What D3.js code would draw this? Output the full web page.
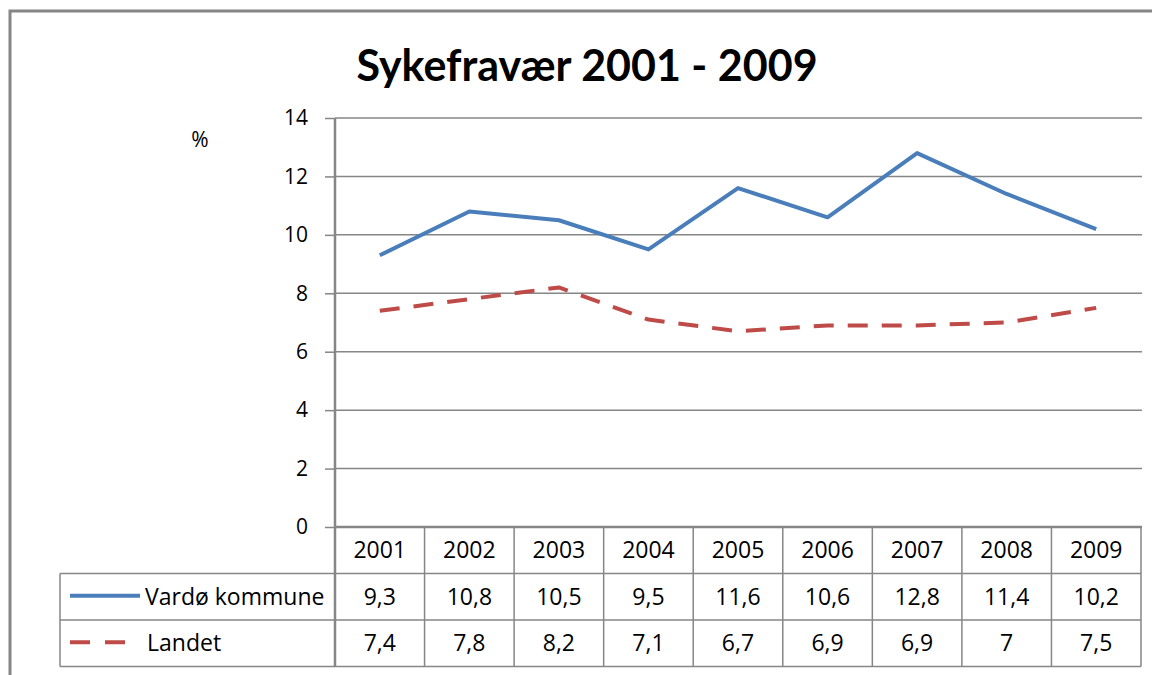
<!DOCTYPE html>
<html>
<head>
<meta charset="utf-8">
<script src="https://cdn.jsdelivr.net/npm/d3@7"></script>
<style>
  body { margin: 0; background: #fff; }
  text { font-family: "Open Sans", Lato, sans-serif; fill: #000; }
</style>
</head>
<body>
<div id="chart"></div>
<script>
const years = ["2001", "2002", "2003", "2004", "2005", "2006", "2007", "2008", "2009"];
const vardo = [9.3, 10.8, 10.5, 9.5, 11.6, 10.6, 12.8, 11.4, 10.2];
const landet = [7.4, 7.8, 8.2, 7.1, 6.7, 6.9, 6.9, 7, 7.5];
const yTicks = [0, 2, 4, 6, 8, 10, 12, 14];
const seriesNames = ["Vardø kommune", "Landet"];

const W = 1152, H = 675;
const plotLeft = 335, plotRight = 1141, plotTop = 118, plotBottom = 527;
const rowH = 46.5;
const legendLeft = 60;
const grey = "#868686";

const svg = d3.select("#chart").append("svg")
  .attr("width", W)
  .attr("height", H);

// outer chart frame
svg.append("rect")
  .attr("x", 10).attr("y", 11)
  .attr("width", W + 20).attr("height", H + 20)
  .attr("fill", "none")
  .attr("stroke", grey)
  .attr("stroke-width", 3);

svg.append("text")
  .attr("x", 587).attr("y", 81)
  .attr("text-anchor", "middle")
  .style("font-family", "Lato, sans-serif")
  .style("font-size", "43px")
  .style("font-weight", "bold")
  .text("Sykefravær 2001 - 2009");

svg.append("text")
  .attr("x", 200).attr("y", 147)
  .attr("text-anchor", "middle")
  .style("font-size", "21px")
  .text("%");

const x = d3.scaleBand().domain(years).range([plotLeft, plotRight]);
const y = d3.scaleLinear().domain([0, 14]).range([plotBottom, plotTop]);

// gridlines
svg.append("g")
  .selectAll("line")
  .data(yTicks)
  .enter().append("line")
  .attr("x1", plotLeft).attr("x2", plotRight + 1)
  .attr("y1", d => y(d)).attr("y2", d => y(d))
  .attr("stroke", grey)
  .attr("stroke-width", d => d === 0 ? 2.5 : 1.5);

// y axis
const yAxis = svg.append("g")
  .attr("transform", "translate(" + plotLeft + ",0)")
  .call(d3.axisLeft(y).tickValues(yTicks).tickSize(10).tickPadding(17));
yAxis.select(".domain").remove();
yAxis.selectAll(".tick line").attr("stroke", grey).attr("stroke-width", 1.5);
yAxis.selectAll(".tick text")
  .style("font-size", "21px")
  .style("font-family", "'Open Sans', sans-serif")
  .attr("fill", "#000");

svg.append("line")
  .attr("x1", plotLeft).attr("x2", plotLeft)
  .attr("y1", plotTop).attr("y2", plotBottom + rowH * 3)
  .attr("stroke", grey).attr("stroke-width", 2.5);

// lines
const line = d3.line()
  .x((d, i) => x(years[i]) + x.bandwidth() / 2)
  .y(d => y(d));

svg.append("path")
  .datum(vardo)
  .attr("d", line)
  .attr("fill", "none")
  .attr("stroke", "#4a7ebb")
  .attr("stroke-width", 4)
  .attr("stroke-linejoin", "round");

svg.append("path")
  .datum(landet)
  .attr("d", line)
  .attr("fill", "none")
  .attr("stroke", "#be4b48")
  .attr("stroke-width", 4)
  .attr("stroke-dasharray", "20,14")
  .attr("stroke-linejoin", "round");

// data table
const table = svg.append("g");

// horizontal rules
[1, 2, 3].forEach(r => {
  table.append("line")
    .attr("x1", legendLeft).attr("x2", plotRight)
    .attr("y1", plotBottom + rowH * r).attr("y2", plotBottom + rowH * r)
    .attr("stroke", grey).attr("stroke-width", 1.5);
});

// vertical rules
table.selectAll(".vcol")
  .data(years)
  .enter().append("line")
  .attr("x1", d => x(d) + x.bandwidth()).attr("x2", d => x(d) + x.bandwidth())
  .attr("y1", plotBottom).attr("y2", plotBottom + rowH * 3)
  .attr("stroke", grey).attr("stroke-width", 1.5);
table.append("line")
  .attr("x1", legendLeft).attr("x2", legendLeft)
  .attr("y1", plotBottom + rowH).attr("y2", plotBottom + rowH * 3)
  .attr("stroke", grey).attr("stroke-width", 1.5);

const fmt = v => String(v).replace(".", ",");

table.selectAll(".yr")
  .data(years)
  .enter().append("text")
  .attr("x", d => x(d) + x.bandwidth() / 2)
  .attr("y", plotBottom + rowH / 2 + 8)
  .attr("text-anchor", "middle")
  .style("font-size", "23px")
  .text(d => d);

[vardo, landet].forEach((s, r) => {
  table.selectAll(".v" + r)
    .data(s)
    .enter().append("text")
    .attr("x", (d, i) => x(years[i]) + x.bandwidth() / 2)
    .attr("y", plotBottom + rowH * (r + 1) + rowH / 2 + 8)
    .attr("text-anchor", "middle")
    .style("font-size", "23px")
    .text(d => fmt(d));
});

// legend keys
const ly1 = plotBottom + rowH * 1.5, ly2 = plotBottom + rowH * 2.5;
table.append("line")
  .attr("x1", 70).attr("x2", 140)
  .attr("y1", ly1 - 1).attr("y2", ly1 - 1)
  .attr("stroke", "#4a7ebb").attr("stroke-width", 4);
table.append("line")
  .attr("x1", 70).attr("x2", 125)
  .attr("y1", ly2 - 1).attr("y2", ly2 - 1)
  .attr("stroke", "#be4b48").attr("stroke-width", 4)
  .attr("stroke-dasharray", "20,15");

table.append("text")
  .attr("x", 145).attr("y", ly1 + 8)
  .style("font-size", "23px")
  .text(seriesNames[0]);
table.append("text")
  .attr("x", 147).attr("y", ly2 + 8)
  .style("font-size", "23px")
  .text(seriesNames[1]);
</script>
</body>
</html>
